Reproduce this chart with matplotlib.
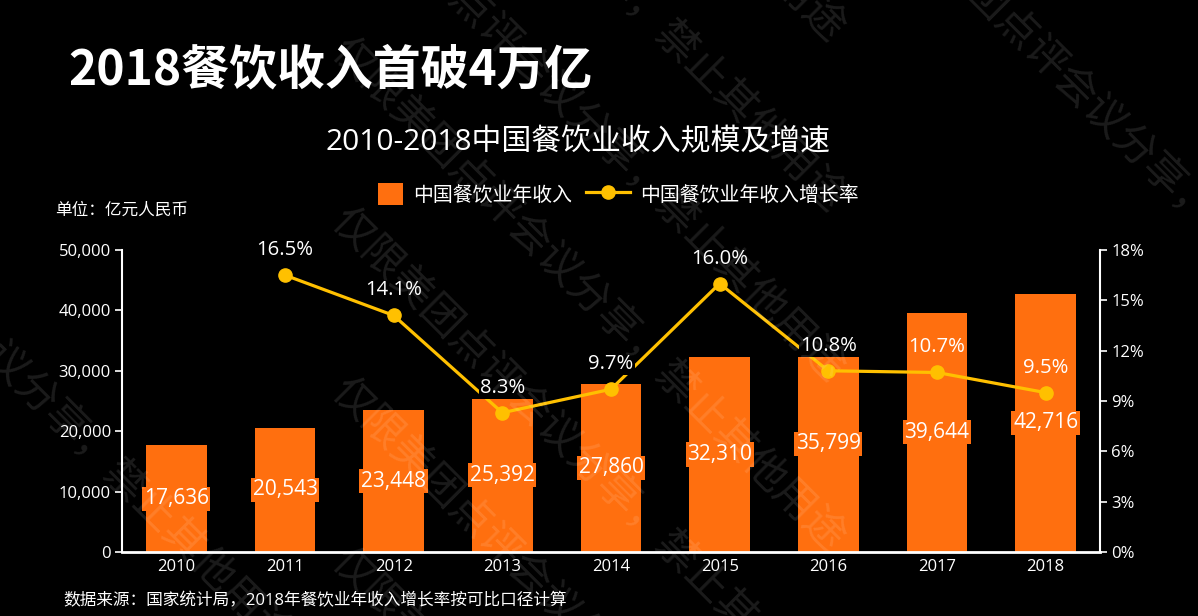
import matplotlib
matplotlib.use("Agg")
import matplotlib.pyplot as plt
from matplotlib.lines import Line2D
from matplotlib.patches import Patch, Rectangle
from matplotlib.legend_handler import HandlerPatch
from matplotlib.ticker import FuncFormatter, MultipleLocator

plt.rcParams['font.family'] = ['Open Sans', 'Noto Sans CJK SC', 'DejaVu Sans']

years = ['2010', '2011', '2012', '2013', '2014', '2015', '2016', '2017', '2018']
revenue = [17636, 20543, 23448, 25392, 27860, 32310, 35799, 39644, 42716]
bar_height = [17636, 20543, 23448, 25392, 27860, 32310, 32310, 39644, 42716]
growth = [None, 16.5, 14.1, 8.3, 9.7, 16.0, 10.8, 10.7, 9.5]
watermark = "仅限美团点评会议分享，禁止其他用途"

BAR = '#FF6F0F'
LINE = '#FFC000'
BG = 'black'
FG = 'white'
W, H = 1198, 616

fig = plt.figure(figsize=(W/100, H/100), dpi=100, facecolor=BG)
ax = fig.add_axes([122/W, 1-552/H, (1100-122)/W, (552-250)/H])
ax.set_facecolor(BG)
x = list(range(len(years)))

ax.bar(x, bar_height, width=0.56, color=BAR, zorder=2)
ax.set_xlim(-0.5, len(years)-0.5)
ax.set_ylim(0, 50000)
ax.yaxis.set_major_locator(MultipleLocator(10000))
ax.yaxis.set_major_formatter(FuncFormatter(lambda v, p: f"{int(v):,}"))
ax.set_xticks(x)
ax.set_xticklabels(years)
ax.tick_params(axis='x', length=0, colors=FG, labelsize=12, pad=5)
ax.tick_params(axis='y', length=5, width=1.2, colors=FG, labelsize=12, pad=3)
for s in ['top', 'right']:
    ax.spines[s].set_visible(False)
ax.spines['left'].set_color(FG)
ax.spines['left'].set_linewidth(1.5)
ax.spines['bottom'].set_color(FG)
ax.spines['bottom'].set_linewidth(2)

for xi, v in zip(x, revenue):
    ax.text(xi, v/2, f"{v:,}", ha='center', va='center', color=FG, fontsize=15,
            bbox=dict(boxstyle='square,pad=0.08', fc=BAR, ec='none'), zorder=3)

ax2 = ax.twinx()
ax2.set_ylim(0, 18)
ax2.yaxis.set_major_locator(MultipleLocator(3))
ax2.yaxis.set_major_formatter(FuncFormatter(lambda v, p: f"{int(v)}%"))
ax2.tick_params(axis='y', length=5, width=1.2, colors=FG, labelsize=12, pad=3)
for s in ['top', 'left', 'bottom']:
    ax2.spines[s].set_visible(False)
ax2.spines['right'].set_color(FG)
ax2.spines['right'].set_linewidth(1.5)

gx = [xi for xi, g in zip(x, growth) if g is not None]
gy = [g for g in growth if g is not None]
ax2.plot(gx, gy, color=LINE, lw=2.3, marker='o', markersize=9.5, zorder=4)
labels = []
for xi, g in zip(gx, gy):
    t = ax2.annotate(f"{g:.1f}%", (xi, g), xytext=(0, 18), textcoords='offset points',
                     ha='center', va='center', color=FG, fontsize=14.6, zorder=5)
    labels.append((xi, t))

# titles & texts
fig.text(68/W, 1-70/H, "2018餐饮收入首破4万亿", color=FG, fontsize=34.5,
         fontweight='bold', ha='left', va='center', family=['Noto Sans CJK SC'])
fig.text(578/W, 1-143/H, "2010-2018中国餐饮业收入规模及增速", color=FG,
         fontsize=21.5, ha='center', va='center')
fig.text(55/W, 1-211/H, "单位：亿元人民币", color=FG, fontsize=12,
         ha='left', va='center')
fig.text(63/W, 1-601/H, "数据来源：国家统计局，2018年餐饮业年收入增长率按可比口径计算",
         color=FG, fontsize=12, ha='left', va='center')


def small_square(legend, orig_handle, xdescent, ydescent, width, height, fontsize):
    w, h = 18, 16
    return Rectangle((-xdescent + width - w, -ydescent + (height - h) / 2), w, h)


handles = [Patch(facecolor=BAR, edgecolor='none', label='中国餐饮业年收入'),
           Line2D([0], [0], color=LINE, lw=2.3, marker='o', markersize=9.5,
                  label='中国餐饮业年收入增长率')]
fig.legend(handles=handles, loc='center', bbox_to_anchor=(609/W, 1-195/H),
           ncol=2, frameon=False, fontsize=14.3, labelcolor=FG,
           handlelength=2.2, handleheight=1.2, columnspacing=0.7, handletextpad=0.5,
           handler_map={Patch: HandlerPatch(patch_func=small_square)})

# faint diagonal watermark (centre of first character, in pixels)
wm_starts = [(-200, 160), (898, -87)] + [(352, y) for y in (-449, -279, -109, 61, 231, 401, 571)]
for cx, cy in wm_starts:
    sx, sy = cx - 15, cy - 15
    fig.text(sx/W, 1-sy/H, watermark, color='white', alpha=0.11,
             fontsize=30, rotation=-45, rotation_mode='anchor',
             ha='left', va='center', family=['Noto Sans CJK SC'],
             fontweight=200, zorder=10)

# black backing behind growth labels that sit above the bars (hides the line there)
fig.canvas.draw()
renderer = fig.canvas.get_renderer()
for xi, t in labels:
    bb = t.get_window_extent(renderer)
    bar_top = ax.transData.transform((xi, bar_height[xi]))[1]
    if bb.y0 >= bar_top - 3:
        t.set_bbox(dict(boxstyle='square,pad=0.05', fc=BG, ec='none'))

fig.savefig('out.png', dpi=100, facecolor=BG)
